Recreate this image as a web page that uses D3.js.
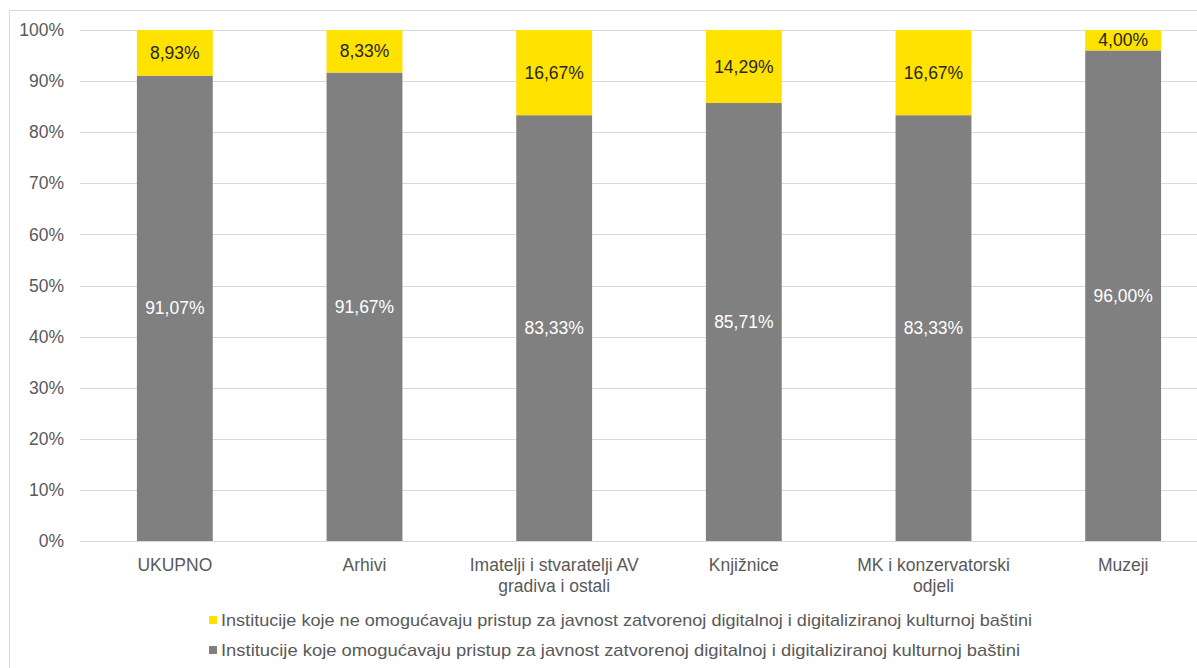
<!DOCTYPE html>
<html><head><meta charset="utf-8">
<script src="https://cdn.jsdelivr.net/npm/d3@7"></script>
<style>body{margin:0;background:#fff;overflow:hidden}svg{display:block}</style>
</head><body>
<svg id="c" width="1197" height="668"></svg>
<script>
const categories = [["UKUPNO"],["Arhivi"],["Imatelji i stvaratelji AV","gradiva i ostali"],["Knjižnice"],["MK i konzervatorski","odjeli"],["Muzeji"]];
const omogucava = [91.07, 91.67, 83.33, 85.71, 83.33, 96.00];
const neOmogucava = [8.93, 8.33, 16.67, 14.29, 16.67, 4.00];
const yTicks = [0,10,20,30,40,50,60,70,80,90,100];
const seriesNames = ["Institucije koje ne omogućavaju pristup za javnost zatvorenoj digitalnoj i digitaliziranoj kulturnoj baštini",
                     "Institucije koje omogućavaju pristup za javnost zatvorenoj digitalnoj i digitaliziranoj kulturnoj baštini"];
const colors = {gray:"#808080", yellow:"#FFE200"};

const svg = d3.select("#c");
svg.append("rect").attr("x",9.5).attr("y",10.5).attr("width",1220).attr("height",700).attr("fill","#fff").attr("stroke","#d9d9d9");

const x = d3.scaleBand().domain(d3.range(categories.length)).range([80,1218]).paddingInner(0.6).paddingOuter(0.3);
const y = d3.scaleLinear().domain([0,100]).range([541,30]);

const font = "Arial, 'Liberation Sans', sans-serif";
const fs = 17.5;
// grid
svg.append("g").selectAll("line").data(yTicks).join("line")
  .attr("x1",80).attr("x2",1218).attr("y1",d=>Math.round(y(d))+0.5).attr("y2",d=>Math.round(y(d))+0.5)
  .attr("stroke","#d9d9d9").attr("stroke-width",1);
// y labels
svg.append("g").selectAll("text").data(yTicks).join("text")
  .attr("x",64).attr("y",d=>y(d)).attr("dy","0.35em").attr("text-anchor","end")
  .attr("font-family",font).attr("font-size",fs).attr("fill","#595959").text(d=>d+"%");

const bw = x.bandwidth();
const g = svg.append("g");
g.selectAll("rect.g").data(omogucava).join("rect")
  .attr("x",(d,i)=>x(i)).attr("width",bw).attr("y",d=>y(d)).attr("height",d=>y(0)-y(d)).attr("fill",colors.gray);
g.selectAll("rect.y").data(neOmogucava).join("rect")
  .attr("x",(d,i)=>x(i)).attr("width",bw).attr("y",(d,i)=>y(omogucava[i]+d)).attr("height",(d,i)=>y(omogucava[i])-y(omogucava[i]+d)).attr("fill",colors.yellow);

const fmt = v => v.toFixed(2).replace(".",",")+"%";
g.selectAll("text.g").data(omogucava).join("text")
  .attr("x",(d,i)=>x(i)+bw/2).attr("y",d=>(y(0)+y(d))/2).attr("dy","0.35em").attr("text-anchor","middle")
  .attr("font-family",font).attr("font-size",fs).attr("fill","#fff").text(fmt);
g.selectAll("text.y").data(neOmogucava).join("text")
  .attr("x",(d,i)=>x(i)+bw/2).attr("y",(d,i)=>(y(omogucava[i])+y(omogucava[i]+d))/2).attr("dy","0.35em").attr("text-anchor","middle")
  .attr("font-family",font).attr("font-size",fs).attr("fill","#262626").text(fmt);

// category labels
const cl = svg.append("g");
categories.forEach((lines,i)=>{
  lines.forEach((t,j)=>{
    cl.append("text").attr("x",x(i)+bw/2).attr("y",571+j*21).attr("text-anchor","middle")
      .attr("font-family",font).attr("font-size",fs).attr("fill","#595959").text(t);
  });
});

// legend
const lg = svg.append("g");
[[colors.yellow,620,seriesNames[0],811],[colors.gray,650,seriesNames[1],799]].forEach(([c,yy,t,w])=>{
  lg.append("rect").attr("x",209).attr("y",yy-4).attr("width",8).attr("height",8).attr("fill",c);
  lg.append("text").attr("x",221).attr("y",yy).attr("dy","0.35em").attr("font-family",font).attr("font-size",17)
    .attr("fill","#595959").attr("textLength",w).attr("lengthAdjust","spacingAndGlyphs").text(t);
});
</script>
</body></html>
